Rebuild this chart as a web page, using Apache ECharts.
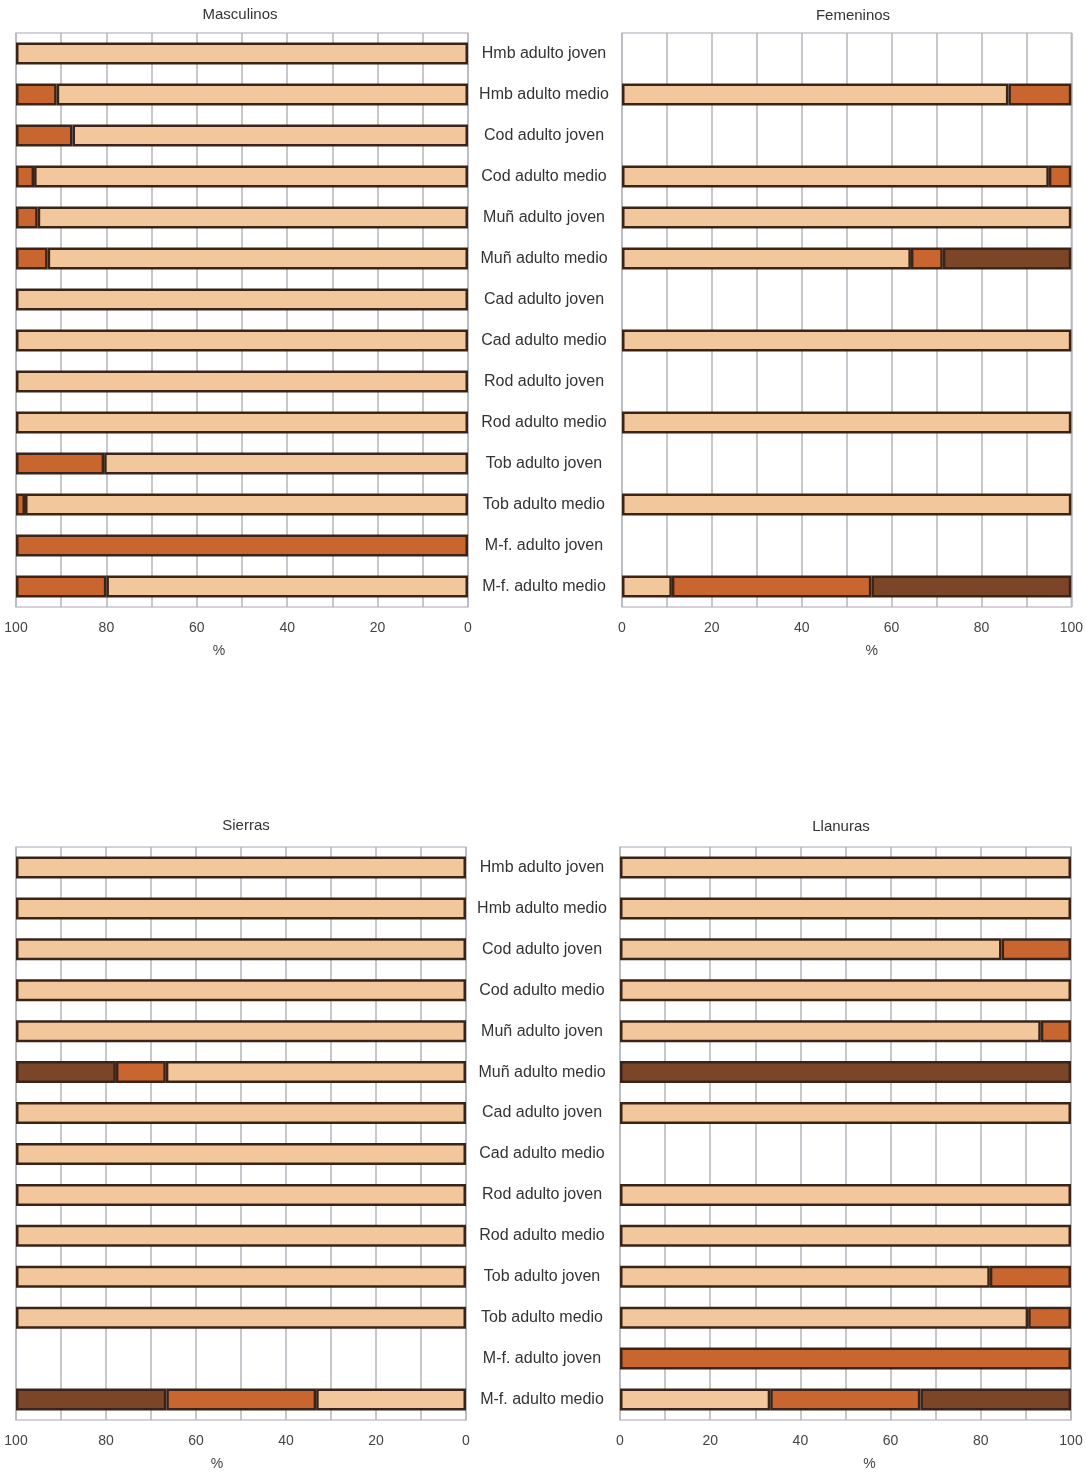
<!DOCTYPE html>
<html>
<head>
<meta charset="utf-8">
<script src="https://cdn.jsdelivr.net/npm/echarts@6/dist/echarts.min.js"></script>
<style>
html,body{margin:0;padding:0;background:#fff;}
#chart{width:1086px;height:1476px;}
</style>
</head>
<body>
<div id="chart"></div>
<script>
const categories = ['Hmb adulto joven','Hmb adulto medio','Cod adulto joven','Cod adulto medio','Muñ adulto joven','Muñ adulto medio','Cad adulto joven','Cad adulto medio','Rod adulto joven','Rod adulto medio','Tob adulto joven','Tob adulto medio','M-f. adulto joven','M-f. adulto medio'];
const tickLabels = [0, 20, 40, 60, 80, 100];
const panelTitles = ['Masculinos', 'Femeninos', 'Sierras', 'Llanuras'];

const mascLight  = [100, 91, 87.5, 96, 95.2, 93, 100, 100, 100, 100, 80.5, 98, null, 80];
const mascOrange = [null, 9, 12.5, 4, 4.8, 7, null, null, null, null, 19.5, 2, 100, 20];
const mascDark   = [null, null, null, null, null, null, null, null, null, null, null, null, null, null];

const femLight  = [null, 86, null, 95, 100, 64.3, null, 100, null, 100, null, 100, null, 11.1];
const femOrange = [null, 14, null, 5, null, 7.1, null, null, null, null, null, null, null, 44.4];
const femDark   = [null, null, null, null, null, 28.6, null, null, null, null, null, null, null, 44.5];

const sierLight  = [100, 100, 100, 100, 100, 66.7, 100, 100, 100, 100, 100, 100, null, 33.3];
const sierOrange = [null, null, null, null, null, 11.1, null, null, null, null, null, null, null, 33.3];
const sierDark   = [null, null, null, null, null, 22.2, null, null, null, null, null, null, null, 33.4];

const llanLight  = [100, 100, 84.6, 100, 93.3, null, 100, null, 100, 100, 82, 90.5, null, 33.3];
const llanOrange = [null, null, 15.4, null, 6.7, null, null, null, null, null, 18, 9.5, 100, 33.3];
const llanDark   = [null, null, null, null, null, 100, null, null, null, null, null, null, null, 33.4];

const colors = ['#F2C79C', '#C9652F', '#7B4528'];
const borderCol = '#3a2418';
const FONT = 'Liberation Sans, Arial, sans-serif';

const chart = echarts.init(document.getElementById('chart'));

const grids = [
  {left: 16, right: 618, top: 33, height: 574, show: true, borderColor: '#c4c4cc', borderWidth: 1.5},
  {left: 622, right: 14, top: 33, height: 574, show: true, borderColor: '#c4c4cc', borderWidth: 1.5},
  {left: 16, right: 620, top: 847, height: 573, show: true, borderColor: '#c4c4cc', borderWidth: 1.5},
  {left: 620, right: 15, top: 847, height: 573, show: true, borderColor: '#c4c4cc', borderWidth: 1.5}
];
const isLeft = [true, false, true, false];
const shifts = [[0, 46, 0, 0], [0, 0, 0, 50], [0, 48, 0, 0], [0, 0, 0, 48]];
const labelPad = [[3, 0, 0, 0], null, [5, 0, 0, 0], null];

const xAxes = grids.map((g, i) => ({
  type: 'value', gridIndex: i, min: 0, max: 100, interval: 10,
  inverse: isLeft[i],
  name: '%', nameLocation: 'middle', nameGap: 37,
  nameTextStyle: {fontFamily: FONT, fontSize: 14, color: '#444', padding: shifts[i]},
  axisLine: {show: false}, axisTick: {show: false},
  splitLine: {show: true, lineStyle: {color: '#b4b4bc', width: 1.5}},
  axisLabel: {
    margin: 14, fontFamily: FONT, fontSize: 14, color: '#444',
    formatter: v => tickLabels.indexOf(v) >= 0 ? String(v) : ''
  }
}));

const yAxes = grids.map((g, i) => ({
  type: 'category', gridIndex: i, data: categories, inverse: true,
  position: isLeft[i] ? 'right' : 'left',
  axisLine: {show: false}, axisTick: {show: false}, splitLine: {show: false},
  axisLabel: isLeft[i]
    ? {show: true, align: 'center', margin: 76, fontFamily: FONT, fontSize: 16, color: '#333', padding: labelPad[i]}
    : {show: false}
}));

const panelData = [
  [mascLight, mascOrange, mascDark],
  [femLight, femOrange, femDark],
  [sierLight, sierOrange, sierDark],
  [llanLight, llanOrange, llanDark]
];

const series = [];
panelData.forEach((arrs, i) => {
  arrs.forEach((arr, k) => {
    series.push({
      type: 'bar', xAxisIndex: i, yAxisIndex: i, stack: 'p' + i,
      data: arr.map(v => v === null ? '-' : v),
      barWidth: 22,
      itemStyle: {color: colors[k], borderColor: borderCol, borderWidth: 2.5},
      silent: true
    });
  });
});

const titles = [
  {text: panelTitles[0], left: 235, top: 2},
  {text: panelTitles[1], left: 848, top: 3},
  {text: panelTitles[2], left: 241, top: 813},
  {text: panelTitles[3], left: 836, top: 814}
].map(t => ({
  text: t.text, left: t.left, top: t.top, textAlign: 'center',
  textStyle: {fontFamily: FONT, fontSize: 15, fontWeight: 'normal', color: '#333'}
}));

chart.setOption({
  animation: false,
  backgroundColor: '#fff',
  title: titles,
  grid: grids,
  xAxis: xAxes,
  yAxis: yAxes,
  series: series
});
</script>
</body>
</html>
